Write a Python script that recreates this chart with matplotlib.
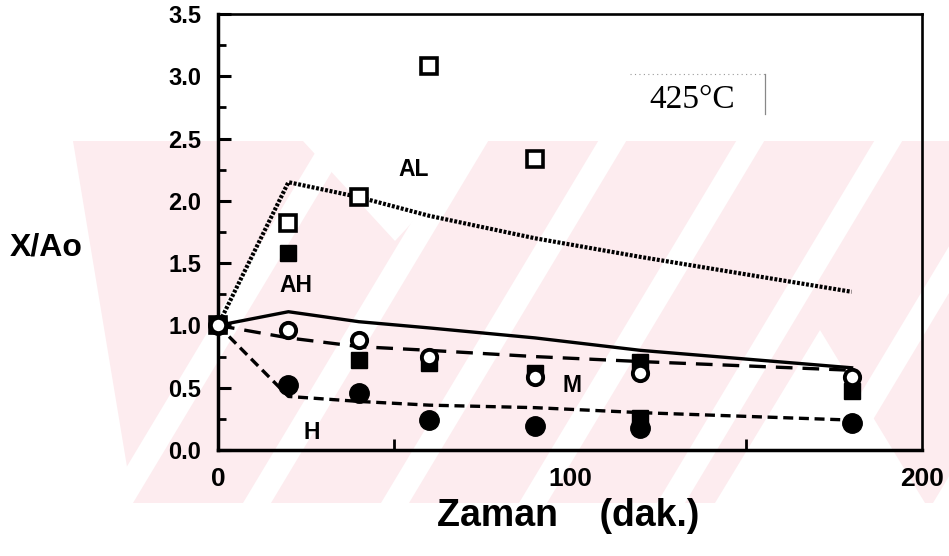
import matplotlib
matplotlib.use("Agg")
import matplotlib.pyplot as plt
from matplotlib.patches import Polygon
from matplotlib.ticker import MultipleLocator, FixedLocator

# ---- data -------------------------------------------------------------
# measured points
al_t = [0, 20, 40, 60, 90]
al_y = [1.0, 1.82, 2.03, 3.08, 2.34]

ah_t = [0, 20, 40, 60, 90, 120, 120, 180]
ah_y = [1.0, 1.58, 0.72, 0.70, 0.62, 0.71, 0.26, 0.47]

m_t = [0, 20, 40, 60, 90, 120, 180]
m_y = [1.0, 0.96, 0.88, 0.75, 0.59, 0.62, 0.59]

h_t = [0, 20, 40, 60, 90, 120, 180]
h_y = [1.0, 0.52, 0.46, 0.24, 0.19, 0.18, 0.22]

# model curves
fit_t = [0, 20, 40, 60, 90, 120, 180]
al_fit = [1.0, 2.15, 2.03, 1.88, 1.70, 1.55, 1.27]
ah_fit = [1.0, 1.11, 1.03, 0.98, 0.90, 0.80, 0.66]
m_fit = [1.0, 0.90, 0.83, 0.80, 0.75, 0.71, 0.64]
h_fit = [1.0, 0.43, 0.39, 0.36, 0.34, 0.30, 0.24]

x_ticks = [0, 100, 200]
y_ticks = [0.0, 0.5, 1.0, 1.5, 2.0, 2.5, 3.0, 3.5]

W, H = 949, 556
fig = plt.figure(figsize=(W / 100, H / 100), dpi=100)
fig.patch.set_facecolor("white")

PINK = "#fdecef"


def px(points):
    return [(x / W, 1 - y / H) for x, y in points]


def shape(points, color, z):
    fig.add_artist(Polygon(px(points), closed=True, facecolor=color, edgecolor="none",
                           transform=fig.transFigure, zorder=z))


# background watermark band
top, bot, left, right = 141, 503, 73, 949
shape([(left, top), (right, top), (right, bot), (left + 60, bot)], PINK, 0)
# diagonal light stripes
slope = 0.6
hgt = bot - top
for x0 in range(105, 1100, 138):
    shape([(x0, bot), (x0 + 28, bot), (x0 + 28 + slope * hgt, top), (x0 + slope * hgt, top)],
          "white", 0.5)
# notches of the big X shapes
shape([(303, top), (487, top), (395, top + 100)], "white", 0.6)
shape([(715, bot), (925, bot), (820, 330)], "white", 0.6)

ax = fig.add_axes([218 / W, 1 - 450 / H, (922 - 218) / W, (450 - 14) / H])
ax.set_facecolor("none")
ax.set_zorder(2)

ax.set_xlim(0, 200)
ax.set_ylim(0, 3.5)

# curves
ax.plot(fit_t, al_fit, color="black", lw=3.0, linestyle=(0, (0.7, 0.4)), zorder=3)
ax.plot(fit_t, ah_fit, color="black", lw=2.4, linestyle="-", zorder=3)
ax.plot(fit_t, m_fit, color="black", lw=2.4, linestyle=(0, (5, 3)), zorder=3)
ax.plot(fit_t, h_fit, color="black", lw=2.4, linestyle=(0, (3.0, 1.7)), zorder=3)

# measured points
ax.plot(al_t, al_y, linestyle="none", marker="s", ms=12, mfc="white", mec="black",
        mew=2.6, clip_on=False, zorder=4)
ax.plot(ah_t, ah_y, linestyle="none", marker="s", ms=12, mfc="black", mec="black",
        mew=1, clip_on=False, zorder=4)
ax.plot(h_t, h_y, linestyle="none", marker="o", ms=14, mfc="black", mec="black",
        mew=1, clip_on=False, zorder=4)
ax.plot(m_t, m_y, linestyle="none", marker="o", ms=11, mfc="white", mec="black",
        mew=2.8, clip_on=False, zorder=5)

# series labels
lab = dict(fontsize=16.5, fontweight="bold", family=["Liberation Sans", "DejaVu Sans"],
           ha="center", va="center", zorder=6)
ax.text(55.5, 2.25, "AL", **lab)
ax.text(22.0, 1.32, "AH", **lab)
ax.text(100.5, 0.52, "M", **lab)
ax.text(26.5, 0.14, "H", **lab)

# temperature tag
ax.text(134.8, 2.81, "425°C", fontsize=24, family=["Liberation Serif", "DejaVu Serif"],
        ha="center", va="center", zorder=6)
ax.plot([117, 156], [3.02, 3.02], color="#999999", lw=0.8, linestyle=(0, (1, 3)), zorder=2)
ax.plot([155.5, 155.5], [3.02, 2.70], color="#888888", lw=0.9, zorder=2)

# axes styling
for side in ("left", "bottom"):
    ax.spines[side].set_linewidth(2.5)
for side in ("top", "right"):
    ax.spines[side].set_linewidth(1.9)

ax.xaxis.set_major_locator(FixedLocator(x_ticks))
ax.xaxis.set_minor_locator(FixedLocator([50, 150]))
ax.yaxis.set_major_locator(FixedLocator(y_ticks))
ax.yaxis.set_minor_locator(MultipleLocator(0.25))
ax.tick_params(axis="both", which="major", direction="in", length=9, width=2.2)
ax.tick_params(axis="both", which="minor", direction="in", length=6, width=2.0)
ax.tick_params(axis="y", which="major", pad=12)
ax.tick_params(axis="x", which="major", pad=12, length=0)
ax.tick_params(axis="x", which="minor", length=8)
ax.set_yticklabels([f"{v:.1f}" for v in y_ticks], fontsize=17, fontweight="bold",
                   family=["Liberation Sans", "DejaVu Sans"])
ax.set_xticklabels([str(v) for v in x_ticks], fontsize=19, fontweight="bold",
                   family=["Liberation Sans", "DejaVu Sans"])

fig.text(46 / W, 1 - 248 / H, "X/Ao", fontsize=23, fontweight="bold",
         family=["Liberation Sans", "DejaVu Sans"], ha="center", va="center")
fig.text(568 / W, 1 - 516 / H, "Zaman    (dak.)", fontsize=27, fontweight="bold",
         family=["Liberation Sans", "DejaVu Sans"], ha="center", va="center")

fig.savefig("out.png", dpi=100, facecolor="white")
